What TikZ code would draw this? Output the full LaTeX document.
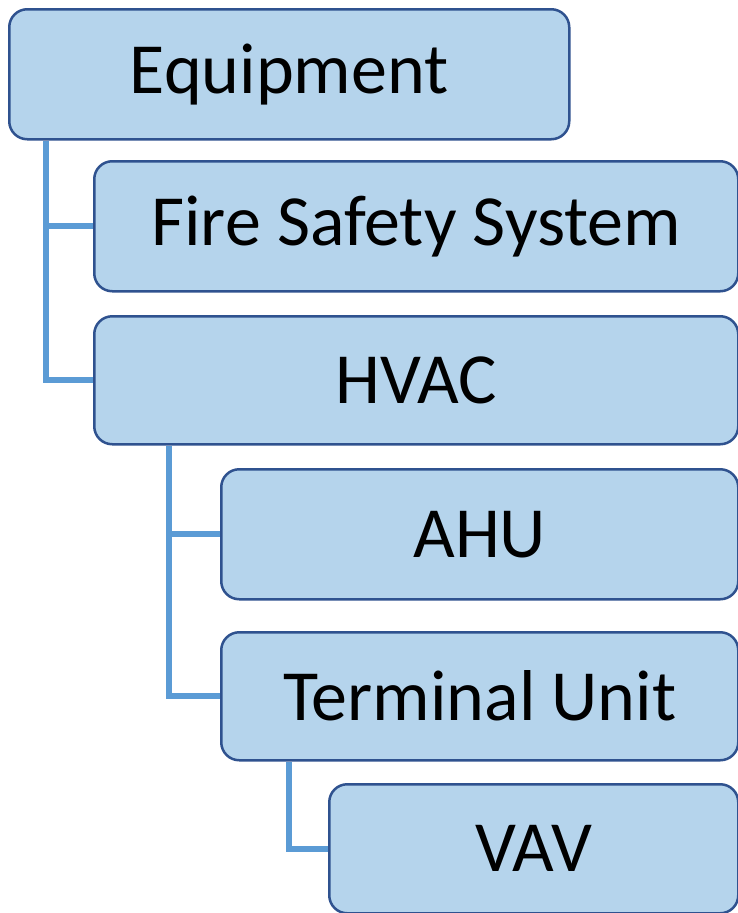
\documentclass[tikz,border=0pt]{standalone}
\usepackage{fontspec}
\setmainfont{Carlito}
\definecolor{boxfill}{RGB}{181,212,236}
\definecolor{boxline}{RGB}{47,82,143}
\definecolor{linkline}{RGB}{91,155,213}
\tikzset{
  item/.style={draw=boxline, fill=boxfill, line width=2.5pt, rounded corners=18pt,
               anchor=north west, minimum height=129pt, inner sep=0pt,
               font=\fontsize{72}{86}\selectfont},
  link/.style={draw=linkline, line width=6pt},
}
\begin{document}
\begin{tikzpicture}[x=1pt,y=-1pt]%{{{
\useasboundingbox (0,0) rectangle (738,913);
%
% Liens
\coordinate (l1) at (46,138);
\coordinate (l2) at (169,443);
\coordinate (l3) at (289,759);
%
% Boites
\node [item, minimum width=560pt, minimum height=130pt] (equip) at (8,8) {Equipment};
\node [item, minimum width=644pt, minimum height=130pt] (fire)  at (93,160) {Fire Safety System};
\node [item, minimum width=644pt, minimum height=128pt] (hvac)  at (93,315) {HVAC};
\node [item, minimum width=517pt, minimum height=130pt] (ahu)   at (220,468) {AHU};
\node [item, minimum width=517pt, minimum height=128pt] (term)  at (220,631) {Terminal Unit};
\node [item, minimum width=409pt, minimum height=129pt] (vav)   at (328,783) {VAV};
%
% Liens (dessus)
\draw [link] (l1 |- equip.south) |- (fire.west);
\draw [link] (l1 |- equip.south) |- (hvac.west);
\draw [link] (l2 |- hvac.south) |- (ahu.west);
\draw [link] (l2 |- hvac.south) |- (term.west);
\draw [link] (l3 |- term.south) |- (vav.west);
%
\end{tikzpicture}
\end{document}
